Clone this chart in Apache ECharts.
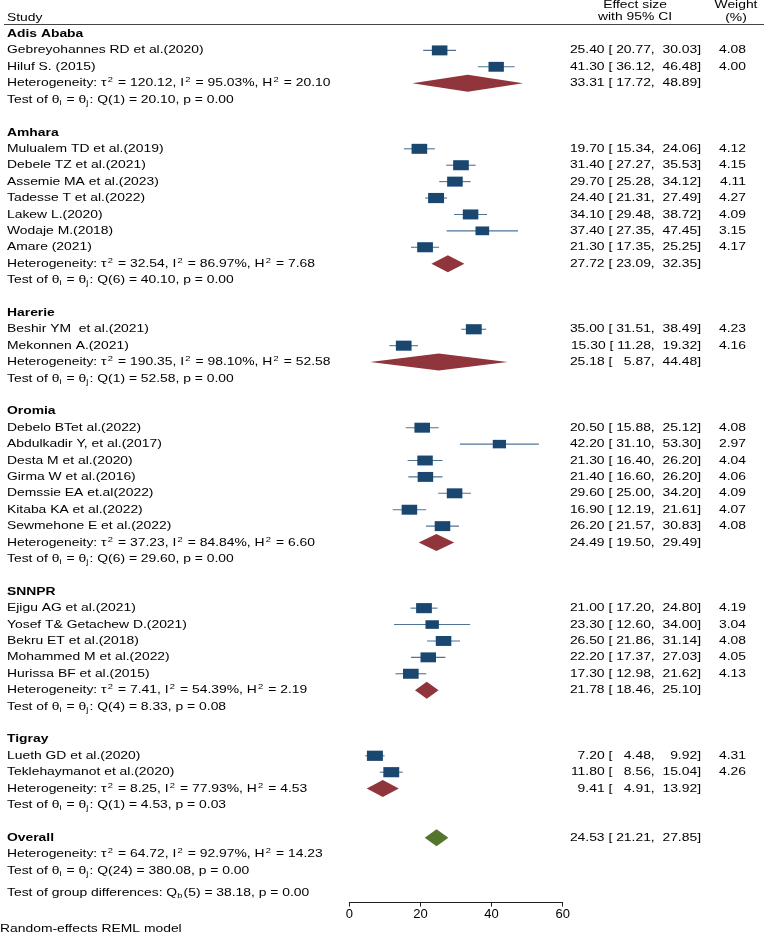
<!DOCTYPE html>
<html>
<head>
<meta charset="utf-8">
<script src="https://cdn.jsdelivr.net/npm/echarts@6/dist/echarts.min.js"></script>
<style>
html,body{margin:0;padding:0;background:#fff;}
#chart{width:764px;height:932px;}
</style>
</head>
<body>
<div id="chart"></div>
<script>
const groupNames = ['Adis Ababa','Amhara','Harerie','Oromia','SNNPR','Tigray'];
const studyNames = [
  'Gebreyohannes RD et al.(2020)','Hiluf S. (2015)',
  'Mulualem TD et al.(2019)','Debele TZ et al.(2021)','Assemie MA et al.(2023)','Tadesse T et al.(2022)','Lakew L.(2020)','Wodaje M.(2018)','Amare (2021)',
  'Beshir YM  et al.(2021)','Mekonnen A.(2021)',
  'Debelo BTet al.(2022)','Abdulkadir Y, et al.(2017)','Desta M et al.(2020)','Girma W et al.(2016)','Demssie EA et.al(2022)','Kitaba KA et al.(2022)','Sewmehone E et al.(2022)',
  'Ejigu AG et al.(2021)','Yosef T& Getachew D.(2021)','Bekru ET et al.(2018)','Mohammed M et al.(2022)','Hurissa BF et al.(2015)',
  'Lueth GD et al.(2020)','Teklehaymanot et al.(2020)'
];
const studyGroup = [0,0,1,1,1,1,1,1,1,2,2,3,3,3,3,3,3,3,4,4,4,4,4,5,5];
const effect = [25.40,41.30,19.70,31.40,29.70,24.40,34.10,37.40,21.30,35.00,15.30,20.50,42.20,21.30,21.40,29.60,16.90,26.20,21.00,23.30,26.50,22.20,17.30,7.20,11.80];
const lower  = [20.77,36.12,15.34,27.27,25.28,21.31,29.48,27.35,17.35,31.51,11.28,15.88,31.10,16.40,16.60,25.00,12.19,21.57,17.20,12.60,21.86,17.37,12.98,4.48,8.56];
const upper  = [30.03,46.48,24.06,35.53,34.12,27.49,38.72,47.45,25.25,38.49,19.32,25.12,53.30,26.20,26.20,34.20,21.61,30.83,24.80,34.00,31.14,27.03,21.62,9.92,15.04];
const weight = [4.08,4.00,4.12,4.15,4.11,4.27,4.09,3.15,4.17,4.23,4.16,4.08,2.97,4.04,4.06,4.09,4.07,4.08,4.19,3.04,4.08,4.05,4.13,4.31,4.26];

const groupEffect = [33.31,27.72,25.18,24.49,21.78,9.41];
const groupLower  = [17.72,23.09,5.87,19.50,18.46,4.91];
const groupUpper  = [48.89,32.35,44.48,29.49,25.10,13.92];
const groupTau2 = [120.12,32.54,190.35,37.23,7.41,8.25];
const groupI2   = [95.03,86.97,98.10,84.84,54.39,77.93];
const groupH2   = [20.10,7.68,52.58,6.60,2.19,4.53];
const groupDf   = [1,6,1,6,4,1];
const groupQ    = [20.10,40.10,52.58,29.60,8.33,4.53];
const groupP    = [0.00,0.00,0.00,0.00,0.08,0.03];

const overallEst = [24.53,21.21,27.85];
const overallHet = [64.72,92.97,14.23];
const overallTest = [24,380.08,0.00];
const groupDiffTest = [5,38.18,0.00];

const xTicks = [0,20,40,60];

// ---- build row layout ----
const rows = [];
let r = 0;
groupNames.forEach((g, gi) => {
  rows.push({kind:'title', row:r, text:g}); r++;
  studyGroup.forEach((sg, si) => { if (sg === gi) { rows.push({kind:'study', row:r, i:si}); r++; } });
  rows.push({kind:'sub', row:r, g:gi}); r++;
  rows.push({kind:'test', row:r, g:gi}); r++;
  r++;
});
rows.push({kind:'overall', row:r}); r++;
rows.push({kind:'ohet', row:r}); r++;
rows.push({kind:'otest', row:r}); r++;
rows.push({kind:'gdiff', row:r + 0.35});
rows.push({kind:'header', row:-1});
rows.push({kind:'footer', row:54.55});

const FONT = '"Liberation Sans", Arial, Helvetica, sans-serif';
const FS = 11.2;
const SX = 1.24;
const RICH = {
  sup: {fontSize:7.5, lineHeight:7, verticalAlign:'top', fontFamily:FONT, fill:'#000', padding:[0,1,0,1]},
  sub: {fontSize:7.5, lineHeight:7, verticalAlign:'bottom', fontFamily:FONT, fill:'#000', padding:[0,1,0,0]}
};
const BOX = '#1a476f', CI = '#4f7397', SUBD = '#90353b', OVD = '#55752f';

function f2(v){ return v.toFixed(2); }
function pad(v){ const s = f2(v); return v < 10 ? '  ' + s : s; }
function ciText(es, lo, hi){ return f2(es) + ' [ ' + pad(lo) + ',  ' + pad(hi) + ']'; }
function hetText(t,i,h){ return 'Heterogeneity: τ{sup|2} = ' + f2(t) + ', I{sup|2} = ' + f2(i) + '%, H{sup|2} = ' + f2(h); }
function testText(df,q,p){ return 'Test of θ{sub|i} = θ{sub|j}: Q(' + df + ') = ' + f2(q) + ', p = ' + f2(p); }

function txt(x, y, text, align, bold){
  return {type:'text', x:x, y:y, scaleX:SX, silent:true,
    style:{text:text, x:0, y:0, align:align||'left', verticalAlign:'middle', fontSize:FS, lineHeight:14,
      fontFamily:FONT, fontWeight:bold?'bold':'normal', fill:'#000', rich:RICH}};
}

const LX = 7, EX = 701, WX = 746;

function renderItem(params, api){
  const it = rows[params.dataIndex];
  const y0 = api.coord([0,0])[1], y1 = api.coord([0,1])[1];
  const Y = row => y0 + row*(y1-y0);
  const X = v => api.coord([v,0])[0];
  const y = Y(it.row);
  const ch = [];
  const diamond = (es, lo, hi, color) => {
    const h = 8.5;
    ch.push({type:'polygon', silent:true, shape:{points:[[X(lo),y],[X(es),y-h],[X(hi),y],[X(es),y+h]]}, style:{fill:color}});
  };
  if (it.kind === 'title') {
    ch.push(txt(LX, y, it.text, 'left', true));
  } else if (it.kind === 'study') {
    const i = it.i;
    ch.push(txt(LX, y, studyNames[i]));
    ch.push({type:'line', silent:true, shape:{x1:X(lower[i]), y1:y, x2:X(upper[i]), y2:y}, style:{stroke:CI, lineWidth:1.1}});
    const w = 7.7*Math.sqrt(weight[i]), h = 0.64*w;
    const cx = X(effect[i]);
    ch.push({type:'rect', silent:true, shape:{x:cx-w/2, y:y-h/2, width:w, height:h}, style:{fill:BOX}});
    ch.push(txt(EX, y, ciText(effect[i], lower[i], upper[i]), 'right'));
    ch.push(txt(WX, y, f2(weight[i]), 'right'));
  } else if (it.kind === 'sub') {
    const g = it.g;
    ch.push(txt(LX, y, hetText(groupTau2[g], groupI2[g], groupH2[g])));
    diamond(groupEffect[g], groupLower[g], groupUpper[g], SUBD);
    ch.push(txt(EX, y, ciText(groupEffect[g], groupLower[g], groupUpper[g]), 'right'));
  } else if (it.kind === 'test') {
    const g = it.g;
    ch.push(txt(LX, y, testText(groupDf[g], groupQ[g], groupP[g])));
  } else if (it.kind === 'overall') {
    ch.push(txt(LX, y, 'Overall', 'left', true));
    diamond(overallEst[0], overallEst[1], overallEst[2], OVD);
    ch.push(txt(EX, y, ciText(overallEst[0], overallEst[1], overallEst[2]), 'right'));
  } else if (it.kind === 'ohet') {
    ch.push(txt(LX, y, hetText(overallHet[0], overallHet[1], overallHet[2])));
  } else if (it.kind === 'otest') {
    ch.push(txt(LX, y, testText(overallTest[0], overallTest[1], overallTest[2])));
  } else if (it.kind === 'gdiff') {
    ch.push(txt(LX, y, 'Test of group differences: Q{sub|b}(' + groupDiffTest[0] + ') = ' + f2(groupDiffTest[1]) + ', p = ' + f2(groupDiffTest[2])));
  } else if (it.kind === 'header') {
    ch.push(txt(LX, Y(-1.0), 'Study'));
    ch.push(txt(635, Y(-1.76), 'Effect size', 'center'));
    ch.push(txt(635, Y(-1.03), 'with 95% CI', 'center'));
    ch.push(txt(736, Y(-1.76), 'Weight', 'center'));
    ch.push(txt(736, Y(-1.0), '(%)', 'center'));
    const ly = Math.round(Y(-0.61)) + 0.5;
    ch.push({type:'line', silent:true, shape:{x1:4, y1:ly, x2:764, y2:ly}, style:{stroke:'#444', lineWidth:1.2}});
  } else if (it.kind === 'footer') {
    ch.push(txt(0, y, 'Random-effects REML model'));
  }
  return {type:'group', children:ch};
}

const chart = echarts.init(document.getElementById('chart'), null, {renderer:'canvas'});
chart.setOption({
  animation:false,
  backgroundColor:'#fff',
  grid:{left:349.3, right:201.3, top:1.18, bottom:29.4, containLabel:false},
  xAxis:{type:'value', min:xTicks[0], max:xTicks[xTicks.length-1], interval:20,
    axisLine:{show:true, onZero:false, lineStyle:{color:'#222', width:1}},
    axisTick:{show:true, length:4, lineStyle:{color:'#222', width:1}},
    axisLabel:{fontSize:13, color:'#000', margin:5, fontFamily:FONT},
    splitLine:{show:false}},
  yAxis:{type:'value', inverse:true, min:-2, max:52.95, show:false},
  series:[{type:'custom', clip:false, silent:true,
    data: rows.map(o => [0, Math.max(-2, Math.min(52.95, o.row))]),
    renderItem: renderItem}]
});
</script>
</body>
</html>
